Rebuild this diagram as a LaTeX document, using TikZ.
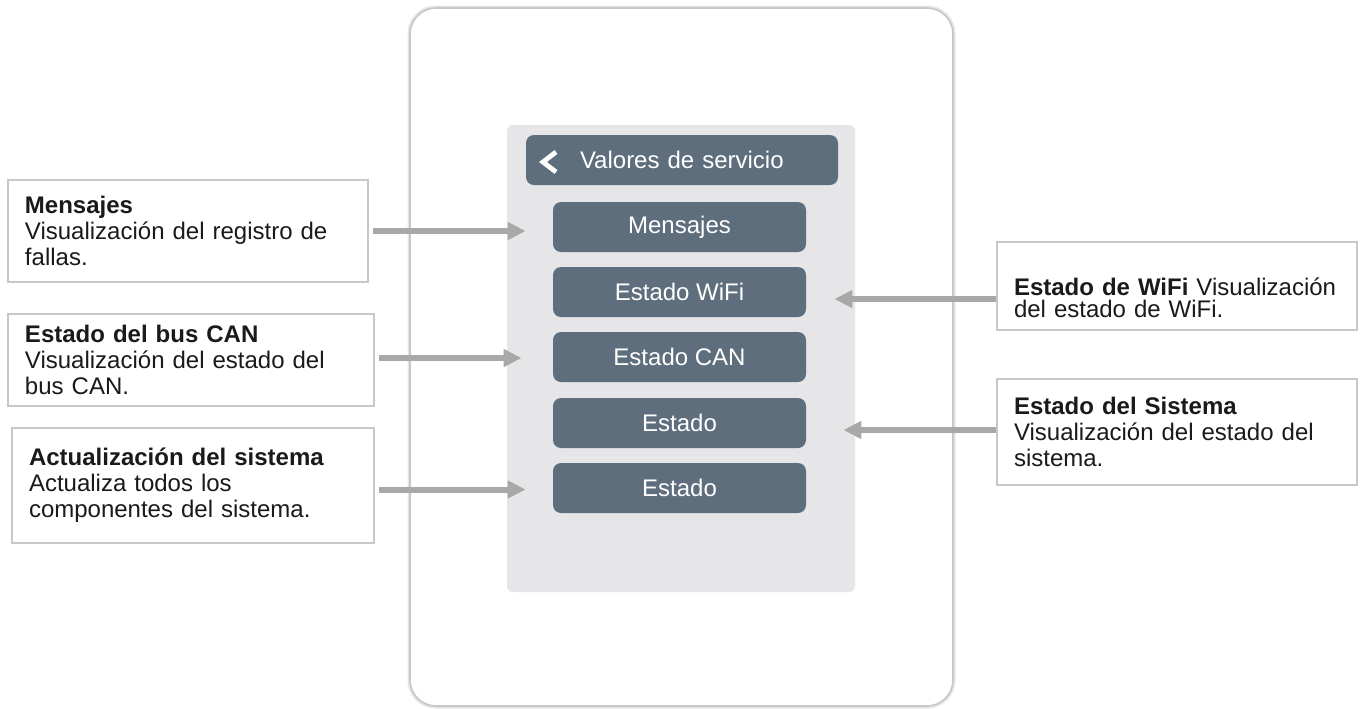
\documentclass[tikz,border=0pt]{standalone}
\usepackage{fontspec}
\setmainfont{Liberation Sans}
\usetikzlibrary{arrows.meta,positioning,calc}
\definecolor{btnc}{RGB}{94,110,125}
\definecolor{panelc}{RGB}{230,230,232}
\definecolor{arrc}{RGB}{168,168,168}
\definecolor{boxc}{RGB}{200,200,200}
\definecolor{txtc}{RGB}{26,26,26}
\tikzset{
  tbox/.style={rectangle,draw=boxc,line width=0.8pt,fill=white,align=left,inner xsep=8.5pt,inner ysep=2pt,text=txtc,font=\fontsize{12}{13}\selectfont},
  btn/.style={rectangle,rounded corners=4pt,fill=btnc,text=white,minimum width=126.5pt,minimum height=25pt,inner sep=0pt,font=\fontsize{12}{14}\selectfont},
  hbtn/.style={btn,minimum width=156pt,text width=102pt,align=left},
  garr/.style={-{Triangle[length=9pt,width=8.5pt]},line width=3pt,arrc},
  chev/.style={white,line width=2.4pt}
}

\begin{document}
\begin{tikzpicture}[x=0.5pt,y=-0.5pt]
\useasboundingbox (0,0) rectangle (1365,708);
% device frame and screen
\draw[black!10,line width=2.5pt,rounded corners=13pt] (410,8) rectangle (953,706);
\draw[black!22,line width=0.8pt,fill=white,rounded corners=13pt] (410,8) rectangle (953,706);
\fill[panelc,rounded corners=3pt] (507,125) rectangle (855,592);
% menu
\node[hbtn] (hdr) at (682,160) {\mbox{Valores de servicio}};
\draw[chev] (556,152) -- (543,162) -- (556,172);
\node[btn] (bmsg) at (679.5,227) {Mensajes};
\node[btn] (bwifi) at (679.5,292) {Estado WiFi};
\node[btn] (bcan) at (679.5,357) {Estado CAN};
\node[btn] (bst1) at (679.5,423) {Estado};
\node[btn] (bst2) at (679.5,488) {Estado};
% descriptions
\node[tbox,minimum width=180pt,minimum height=51pt,text width=163pt] (lmsg) at (188,231)
  {\textbf{Mensajes}\\Visualización del registro de\\fallas.};
\node[tbox,minimum width=183pt,minimum height=46pt,text width=166pt] (lcan) at (191,360)
  {\textbf{Estado del bus CAN}\\Visualización del estado del\\bus CAN.};
\node[tbox,minimum width=181pt,minimum height=57.5pt,text width=164pt] (lupd) at (193,485.5)
  {\textbf{Actualización del sistema}\\Actualiza todos los\\componentes del sistema.};
\node[tbox,minimum width=180pt,minimum height=44pt,text width=163pt,font=\fontsize{12}{11}\selectfont] (rwifi) at (1177,286)
  {\rule{0pt}{21pt}\textbf{Estado de WiFi} Visualización\\del estado de WiFi.};
\node[tbox,minimum width=180pt,minimum height=53pt,text width=163pt] (rsys) at (1177,432)
  {\textbf{Estado del Sistema}\\Visualización del estado del\\sistema.};
% pointers
\draw[garr] ([xshift=2pt]lmsg.east) -- ([xshift=-13.5pt]bmsg.west |- lmsg.east);
\draw[garr] ([xshift=2pt,yshift=1pt]lcan.east) -- ([xshift=-15.5pt,yshift=1pt]bcan.west |- lcan.east);
\draw[garr] ([xshift=2pt,yshift=-2pt]lupd.east) -- ([xshift=-13.5pt,yshift=-2pt]bst2.west |- lupd.east);
\draw[garr] ([yshift=-6.5pt]rwifi.west) -- ([xshift=14pt,yshift=-6.5pt]bwifi.east |- rwifi.west);
\draw[garr] ([yshift=1pt]rsys.west) -- ([xshift=18.5pt,yshift=1pt]bst1.east |- rsys.west);
\end{tikzpicture}
\end{document}
